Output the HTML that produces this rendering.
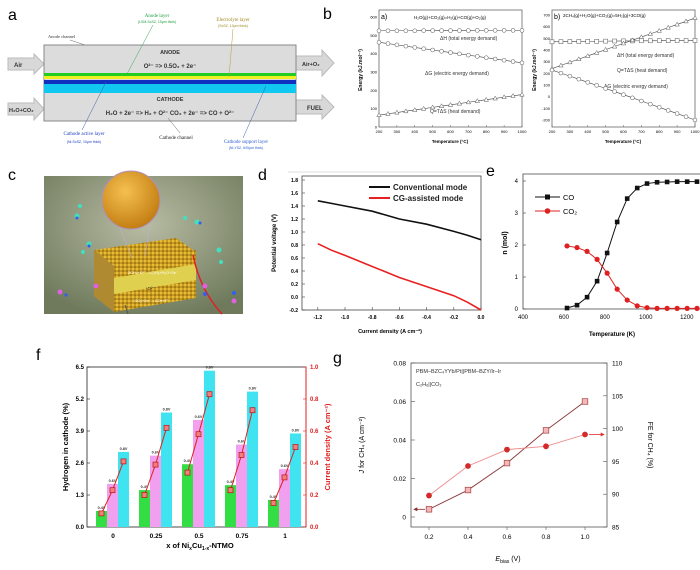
<!DOCTYPE html>
<html><head><meta charset="utf-8"><style>
html,body{margin:0;padding:0;background:#fff}
svg{display:block;font-family:"Liberation Sans",sans-serif}
</style></head><body>
<svg id="fig" width="700" height="570" viewBox="0 0 700 570" xmlns="http://www.w3.org/2000/svg">
<defs>
<radialGradient id="cbg" cx="0.5" cy="0.35" r="0.7"><stop offset="0" stop-color="#b8bca4"/><stop offset="1" stop-color="#6f7a5c"/></radialGradient>
<radialGradient id="orb" cx="0.4" cy="0.35" r="0.7"><stop offset="0" stop-color="#f5c050"/><stop offset="1" stop-color="#c07a10"/></radialGradient>
<linearGradient id="gold" x1="0" y1="0" x2="1" y2="1"><stop offset="0" stop-color="#e0b030"/><stop offset="1" stop-color="#9a6c10"/></linearGradient>
<pattern id="speck" width="4" height="4" patternUnits="userSpaceOnUse"><rect width="4" height="4" fill="#c89a20"/><circle cx="1" cy="1" r="1" fill="#f0c840"/><circle cx="3" cy="3" r="0.8" fill="#7a5a10"/></pattern>
<marker id="arrR" viewBox="0 0 6 6" refX="5" refY="3" markerWidth="5" markerHeight="5" orient="auto"><path d="M0,0 L6,3 L0,6z" fill="#e03030"/></marker>
<marker id="arrL" viewBox="0 0 6 6" refX="5" refY="3" markerWidth="5" markerHeight="5" orient="auto"><path d="M0,0 L6,3 L0,6z" fill="#8b2a2a"/></marker>
</defs>

<!-- Panel a -->
<g>
<text x="8" y="20" font-size="16">a</text>
<polygon points="8,58 34,58 34,54 44,64 34,74 34,70 8,70" fill="#d8d8d8" stroke="#bbb"/>
<text x="14" y="67" font-size="6" font-weight="bold" fill="#333">Air</text>
<polygon points="8,103 34,103 34,98 44,109 34,120 34,115 8,115" fill="#d8d8d8" stroke="#bbb"/>
<text x="9" y="112" font-size="5.5" font-weight="bold" fill="#333">H₂O+CO₂</text>
<polygon points="296,56 322,56 322,50 334,63 322,76 322,70 296,70" fill="#d8d8d8" stroke="#bbb"/>
<text x="302" y="66" font-size="5.5" font-weight="bold" fill="#333">Air+O₂</text>
<polygon points="296,100 322,100 322,95 334,107 322,119 322,114 296,114" fill="#d8d8d8" stroke="#bbb"/>
<text x="307" y="110" font-size="6" font-weight="bold" fill="#333">FUEL</text>
<rect x="44" y="45" width="252" height="76" fill="#dcdcdc" stroke="#888"/>
<rect x="44" y="73" width="252" height="3" fill="#22cc22"/>
<rect x="44" y="76" width="252" height="3" fill="#f0f020"/>
<rect x="44" y="80" width="252" height="4" fill="#1030c0"/>
<rect x="44" y="84" width="252" height="9" fill="#10c8f0"/>
<text x="170" y="54" font-size="5.5" font-weight="bold" text-anchor="middle" fill="#333">ANODE</text>
<text x="170" y="68" font-size="6" font-weight="bold" text-anchor="middle" fill="#333">O²⁻ =&gt; 0.5O₂ + 2e⁻</text>
<text x="170" y="101" font-size="5.5" font-weight="bold" text-anchor="middle" fill="#333">CATHODE</text>
<text x="170" y="115" font-size="6" font-weight="bold" text-anchor="middle" fill="#333">H₂O + 2e⁻ =&gt; H₂ + O²⁻   CO₂ + 2e⁻ =&gt; CO + O²⁻</text>
<text x="157" y="17" font-size="5" fill="#20a040" font-family="Liberation Serif" text-anchor="middle">Anode layer</text>
<text x="157" y="23" font-size="3.5" fill="#20a040" text-anchor="middle">(LSM-ScSZ, 15μm thick)</text>
<line x1="153" y1="25" x2="127" y2="74" stroke="#40a060" stroke-width="0.5"/>
<text x="233" y="21" font-size="5" fill="#a08a20" font-family="Liberation Serif" text-anchor="middle">Electrolyte layer</text>
<text x="233" y="27" font-size="3.5" fill="#a08a20" text-anchor="middle">(ScSZ, 10μm thick)</text>
<line x1="233" y1="29" x2="229" y2="77" stroke="#b0a040" stroke-width="0.5"/>
<text x="48" y="38" font-size="4.5" fill="#333" font-family="Liberation Serif">Anode channel</text>
<line x1="70" y1="40" x2="85" y2="45" stroke="#666" stroke-width="0.5"/>
<text x="84" y="135" font-size="5" fill="#2040c0" font-family="Liberation Serif" text-anchor="middle">Cathode active layer</text>
<text x="84" y="143" font-size="3.5" fill="#2040c0" text-anchor="middle">(Ni-ScSZ, 10μm thick)</text>
<line x1="82" y1="130" x2="106" y2="82" stroke="#4060a0" stroke-width="0.5"/>
<text x="176" y="139" font-size="5" fill="#222" font-family="Liberation Serif" text-anchor="middle">Cathode channel</text>
<line x1="180" y1="133" x2="168" y2="118" stroke="#666" stroke-width="0.5"/>
<text x="246" y="143" font-size="5" fill="#3060d0" font-family="Liberation Serif" text-anchor="middle">Cathode support layer</text>
<text x="246" y="149" font-size="3.5" fill="#3060d0" text-anchor="middle">(Ni-YSZ, 605μm thick)</text>
<line x1="243" y1="138" x2="266" y2="86" stroke="#4060a0" stroke-width="0.5"/>
</g>

<!-- Panel b -->
<g id="panelB">
<text x="323" y="19" font-size="16">b</text>
<rect x="379" y="10" width="143" height="117" fill="none" stroke="#666" stroke-width="0.8"/>
<rect x="552" y="10" width="143" height="117" fill="none" stroke="#666" stroke-width="0.8"/>
<text x="381" y="19" font-size="7">a)</text>
<text x="414" y="19" font-size="4.5">H₂O(g)+CO₂(g)=H₂(g)+CO(g)+O₂(g)</text>
<text x="554" y="19" font-size="7">b)</text>
<text x="563" y="17" font-size="4.5">2CH₄(g)+H₂O(g)+CO₂(g)=5H₂(g)+3CO(g)</text>
<text x="440" y="40" font-size="5" fill="#333">ΔH (total energy demand)</text>
<text x="425" y="75" font-size="5" fill="#333">ΔG (electric energy demand)</text>
<text x="430" y="113" font-size="5" fill="#333">Q=TΔS (heat demand)</text>
<text x="617" y="57" font-size="5" fill="#333">ΔH (total energy demand)</text>
<text x="617" y="72" font-size="5" fill="#333">Q=TΔS (heat demand)</text>
<text x="604" y="88" font-size="5" fill="#333">ΔG (electric energy demand)</text>
<text x="450" y="143" font-size="4.5" font-weight="bold" text-anchor="middle">Temperature (°C)</text>
<text x="623" y="143" font-size="4.5" font-weight="bold" text-anchor="middle">Temperature (°C)</text>
<text transform="translate(362,70) rotate(-90)" font-size="5" font-weight="bold" text-anchor="middle">Energy (kJ.mol⁻¹)</text>
<text transform="translate(536,70) rotate(-90)" font-size="5" font-weight="bold" text-anchor="middle">Energy (kJ.mol⁻¹)</text>
</g>

<!-- Panel c -->
<g>
<text x="8" y="180" font-size="16">c</text>
<rect x="44" y="176" width="199" height="138" fill="url(#cbg)"/>
<polygon points="94,250 176,238 196,252 114,266" fill="url(#speck)"/>
<polygon points="94,250 114,266 114,312 94,296" fill="#b08a30"/>
<polygon points="114,264 196,250 196,266 114,280" fill="url(#speck)"/>
<polygon points="114,278 196,264 196,282 114,296" fill="#e0d050"/>
<polygon points="114,294 196,280 196,298 114,312" fill="url(#speck)"/>
<text x="153" y="274" font-size="4" fill="#fff" text-anchor="middle">2CH₄+O²⁻→C₂H₆+H₂O+2e⁻</text>
<text x="150" y="290" font-size="4.5" fill="#222" text-anchor="middle">↑O²⁻</text>
<text x="152" y="302" font-size="4" fill="#fff" text-anchor="middle">CO₂+2e⁻→CO+O²⁻</text>
<line x1="120" y1="228" x2="132" y2="258" stroke="#c0b0d0" stroke-width="0.6"/>
<line x1="150" y1="225" x2="145" y2="256" stroke="#c0b0d0" stroke-width="0.6"/>
<circle cx="131" cy="200" r="29" fill="url(#orb)" stroke="#b090c0" stroke-width="1"/>
<path d="M193,255 Q200,290 222,314" stroke="#e02020" stroke-width="1.5" fill="none"/>
<path d="M125,305 L128,314" stroke="#555" stroke-width="1" fill="none"/>
<g fill="#40e0c0"><circle cx="77" cy="216" r="2.5"/><circle cx="80" cy="206" r="2"/><circle cx="89" cy="244" r="2.5"/><circle cx="83" cy="252" r="2"/><circle cx="197" cy="222" r="2.5"/><circle cx="185" cy="218" r="2"/><circle cx="219" cy="250" r="2.5"/><circle cx="221" cy="262" r="2"/><circle cx="200" cy="223" r="1.5" fill="#3060f0"/><circle cx="77" cy="218" r="1.5" fill="#3060f0"/><circle cx="89" cy="246" r="1.5" fill="#3060f0"/></g>
<g fill="#e060e0"><circle cx="96" cy="286" r="2.5"/><circle cx="60" cy="292" r="2.5"/><circle cx="66" cy="295" r="1.6" fill="#3060f0"/><circle cx="205" cy="286" r="2.5"/><circle cx="205" cy="294" r="2" fill="#3060f0"/><circle cx="234" cy="301" r="2.5"/><circle cx="234" cy="293" r="2" fill="#3060f0"/></g>
</g>

<!-- Panel d -->
<g id="panelD">
<text x="258" y="180" font-size="16">d</text>
<line x1="288" y1="172" x2="484" y2="172" stroke="#bbb" stroke-width="0.6"/>
<rect x="302" y="176" width="179" height="134" fill="none" stroke="#444" stroke-width="0.8"/>
<line x1="369" y1="187" x2="390" y2="187" stroke="#111" stroke-width="2"/>
<text x="393" y="190" font-size="8" font-weight="bold" fill="#222">Conventional mode</text>
<line x1="369" y1="198" x2="390" y2="198" stroke="#e82020" stroke-width="2"/>
<text x="393" y="201" font-size="8" font-weight="bold" fill="#222">CG-assisted mode</text>
<text x="390" y="333" font-size="5.5" font-weight="bold" text-anchor="middle">Current density (A cm⁻²)</text>
<text transform="translate(276,243) rotate(-90)" font-size="6" font-weight="bold" text-anchor="middle">Potential voltage (V)</text>
</g>

<!-- Panel e -->
<g id="panelE">
<text x="486" y="176" font-size="16">e</text>
<polyline points="700,174 523,174 523,309 700,309" fill="none" stroke="#444" stroke-width="0.8"/>
<line x1="535" y1="197" x2="560" y2="197" stroke="#111" stroke-width="1"/>
<rect x="545" y="194.5" width="5" height="5" fill="#111"/>
<text x="563" y="200" font-size="7.5">CO</text>
<line x1="535" y1="211" x2="560" y2="211" stroke="#e02020" stroke-width="1"/>
<circle cx="547.5" cy="211" r="2.8" fill="#e02020"/>
<text x="563" y="214" font-size="7.5">CO₂</text>
<text x="612" y="336" font-size="6" font-weight="bold" text-anchor="middle">Temperature (K)</text>
<text transform="translate(507,243) rotate(-90)" font-size="7" font-weight="bold" text-anchor="middle">n (mol)</text>
</g>

<!-- Panel f -->
<g id="panelF">
<text x="36" y="360" font-size="16">f</text>
<rect x="87" y="367" width="219" height="160" fill="none" stroke="#222" stroke-width="0.8"/>
<line x1="306" y1="367" x2="306" y2="527" stroke="#e02020" stroke-width="1"/>
<text transform="translate(68,447) rotate(-90)" font-size="7.5" font-weight="bold" text-anchor="middle">Hydrogen in cathode (%)</text>
<text transform="translate(330,447) rotate(-90)" font-size="7.5" font-weight="bold" fill="#e02020" text-anchor="middle">Current density (A cm⁻²)</text>
<text x="200" y="548" font-size="7.5" font-weight="bold" text-anchor="middle">x of Ni<tspan font-size="5" dy="2">x</tspan><tspan dy="-2">Cu</tspan><tspan font-size="5" dy="2">1-x</tspan><tspan dy="-2">-NTMO</tspan></text>
</g>

<!-- Panel g -->
<g id="panelG">
<text x="333" y="363" font-size="16">g</text>
<rect x="411" y="363" width="196" height="164" fill="none" stroke="#555" stroke-width="0.8"/>
<text x="416" y="373" font-size="5.5" fill="#333">PBM–BZC₄YYb/Pt||PBM–BZY/Ir–Ir</text>
<text x="416" y="386" font-size="5.5" fill="#333">C₂H₆||CO₂</text>
<text x="508" y="561" font-size="7" text-anchor="middle"><tspan font-style="italic">E</tspan><tspan font-size="5" dy="2">bias</tspan><tspan dy="-2"> (V)</tspan></text>
<text transform="translate(364,445) rotate(-90)" font-size="7" text-anchor="middle"><tspan font-style="italic">J</tspan> for CH₄ (A cm⁻²)</text>
<text transform="translate(648,445) rotate(90)" font-size="7" text-anchor="middle">FE for CH₄ (%)</text>
</g>
</svg>
<script>
const NS='http://www.w3.org/2000/svg';
const svg=document.getElementById('fig');
function mk(parent,tag,attrs,txt){const e=document.createElementNS(NS,tag);for(const k in attrs)e.setAttribute(k,attrs[k]);if(txt!==undefined)e.textContent=txt;parent.appendChild(e);return e;}

// ===== Panel b data =====
const bTemps=[200,250,300,350,400,450,500,550,600,650,700,750,800,850,900,950,1000];
const bLeftDH=[525,525,525,525,525,526,526,526,526,526,526,527,527,527,527,527,527];
const bLeftDG=[462,455,448,441,434,427,420,413,406,399,392,385,378,371,364,357,350];
const bLeftQ=[65,72,79,86,93,100,107,114,121,128,135,142,149,156,163,170,177];
const bRightDH=[470,471,472,473,474,475,476,477,478,478,479,479,480,480,481,481,482];
const bRightQ=[240,268,295,322,349,376,403,430,457,484,511,538,565,592,619,646,675];
const bRightDG=[228,202,176,150,123,97,70,44,17,-10,-37,-64,-91,-118,-145,-172,-200];
const bXTicks=[200,300,400,500,600,700,800,900,1000];
const bLeftYTicks=[0,100,200,300,400,500,600];
const bRightYTicks=[-200,-100,0,100,200,300,400,500,600,700];

// ===== Panel d data =====
const dCurrent=[-1.2,-1.1,-1.0,-0.8,-0.6,-0.4,-0.2,-0.1,0.0];
const dConventional=[1.48,1.44,1.40,1.32,1.20,1.12,1.01,0.95,0.88];
const dCG=[0.82,0.72,0.64,0.47,0.30,0.16,0.02,-0.08,-0.20];
const dXTicks=[-1.2,-1.0,-0.8,-0.6,-0.4,-0.2,0.0];
const dYTicks=[-0.2,0.0,0.2,0.4,0.6,0.8,1.0,1.2,1.4,1.6,1.8];

// ===== Panel e data =====
const eTemps=[615,664,713,762,811,860,909,958,1006,1055,1104,1153,1202,1250];
const eCO=[0.03,0.12,0.37,0.87,1.75,2.72,3.45,3.78,3.92,3.96,3.97,3.98,3.98,3.98];
const eCO2=[1.97,1.92,1.80,1.55,1.12,0.62,0.28,0.10,0.04,0.02,0.02,0.02,0.02,0.02];
const eXTicks=[400,600,800,1000,1200];
const eYTicks=[0,1,2,3,4];

// ===== Panel f data =====
const fCategories=['0','0.25','0.5','0.75','1'];
const fH2at04=[0.65,1.5,2.55,1.7,1.1];
const fH2at06=[1.75,2.9,4.35,3.35,2.35];
const fH2at08=[3.05,4.65,6.35,5.5,3.8];
const fJat04=[0.085,0.2,0.34,0.23,0.15];
const fJat06=[0.23,0.39,0.58,0.45,0.31];
const fJat08=[0.41,0.62,0.83,0.73,0.5];
const fBarLabels=['0.4V','0.6V','0.8V'];
const fYTicks=[0.0,1.3,2.6,3.9,5.2,6.5];
const fY2Ticks=[0.0,0.2,0.4,0.6,0.8,1.0];

// ===== Panel g data =====
const gBias=[0.2,0.4,0.6,0.8,1.0];
const gJ=[0.004,0.014,0.028,0.045,0.060];
const gFE=[89.8,94.3,96.8,97.3,99.1];
const gXTicks=[0.2,0.4,0.6,0.8,1.0];
const gYTicks=[0,0.02,0.04,0.06,0.08];
const gY2Ticks=[85,90,95,100,105,110];

// ---------- Panel b ----------
(function(){
 const g=document.getElementById('panelB');
 const xL=t=>379+(t-200)*143/800, xR=t=>552+(t-200)*143/800;
 const yL=v=>127-v*110/600, yR=v=>15+(700-v)*105/900;
 bXTicks.forEach(t=>{
  [xL,xR].forEach((xf,i)=>{
   const tk=mk(g,'line',{x1:xf(t),x2:xf(t),y1:127,y2:125,stroke:'#666','stroke-width':0.5});
   
   
   const tl=mk(g,'text',{x:xf(t),y:133,'font-size':4,'text-anchor':'middle'},t);
   
   
  });
 });
 bLeftYTicks.forEach(v=>{
  const tl=mk(g,'text',{x:377,y:yL(v)+1.5,'font-size':4,'text-anchor':'end'},v);
  
  
 });
 bRightYTicks.forEach(v=>{
  const tl=mk(g,'text',{x:550,y:yR(v)+1.5,'font-size':4,'text-anchor':'end'},v);
  
  
 });
 const series=[[bLeftDH,xL,yL,'circle','b-left-dh'],[bLeftDG,xL,yL,'circle','b-left-dg'],[bLeftQ,xL,yL,'tri','b-left-q'],
  [bRightDH,xR,yR,'square','b-right-dh'],[bRightQ,xR,yR,'tri','b-right-q'],[bRightDG,xR,yR,'circle','b-right-dg']];
 series.forEach(([vals,xf,yf,m,name])=>{
  const pl=mk(g,'polyline',{points:vals.map((v,i)=>xf(bTemps[i])+','+yf(v)).join(' '),fill:'none',stroke:'#444','stroke-width':0.6});
  
  
  vals.forEach((v,i)=>{
   const x=xf(bTemps[i]),y=yf(v);let e;
   if(m==='circle')e=mk(g,'circle',{cx:x,cy:y,r:2,fill:'#fff',stroke:'#555','stroke-width':0.5});
   else if(m==='square')e=mk(g,'rect',{x:x-2,y:y-2,width:4,height:4,fill:'#fff',stroke:'#555','stroke-width':0.5});
   else e=mk(g,'polygon',{points:`${x},${y-2.3} ${x-2.2},${y+1.6} ${x+2.2},${y+1.6}`,fill:'#fff',stroke:'#555','stroke-width':0.5});
   
   
  });
 });
})();

// ---------- Panel d ----------
(function(){
 const g=document.getElementById('panelD');
 const x=v=>481+v*136, y=v=>310-(v+0.2)*65;
 dXTicks.forEach(t=>{
  const tk=mk(g,'line',{x1:x(t),x2:x(t),y1:310,y2:307,stroke:'#444','stroke-width':0.6});
  
  
  const tl=mk(g,'text',{x:x(t),y:319,'font-size':5,'font-weight':'bold','text-anchor':'middle'},t.toFixed(1));
  
  
 });
 dYTicks.forEach(t=>{
  const tk=mk(g,'line',{x1:302,x2:305,y1:y(t),y2:y(t),stroke:'#444','stroke-width':0.6});
  
  
  const tl=mk(g,'text',{x:298,y:y(t)+2,'font-size':5,'font-weight':'bold','text-anchor':'end'},t.toFixed(1));
  
  
 });
 const l1=mk(g,'polyline',{points:dCurrent.map((c,i)=>x(c)+','+y(dConventional[i])).join(' '),fill:'none',stroke:'#111','stroke-width':1.6});
 
 
 const l2=mk(g,'polyline',{points:dCurrent.map((c,i)=>x(c)+','+y(dCG[i])).join(' '),fill:'none',stroke:'#e82020','stroke-width':1.6});
 
 
})();

// ---------- Panel e ----------
(function(){
 const g=document.getElementById('panelE');
 const x=t=>523+(t-400)*0.2047, y=v=>309-v*32;
 eXTicks.forEach(t=>{
  const tl=mk(g,'text',{x:x(t),y:319,'font-size':6,'text-anchor':'middle'},t);
  
  
 });
 eYTicks.forEach(t=>{
  const tk=mk(g,'line',{x1:523,x2:526,y1:y(t),y2:y(t),stroke:'#444','stroke-width':0.6});
  
  
  const tl=mk(g,'text',{x:518,y:y(t)+2,'font-size':6,'text-anchor':'end'},t);
  
  
 });
 const l1=mk(g,'polyline',{points:eTemps.map((t,i)=>x(t)+','+y(eCO[i])).join(' '),fill:'none',stroke:'#111','stroke-width':1});
 
 
 const l2=mk(g,'polyline',{points:eTemps.map((t,i)=>x(t)+','+y(eCO2[i])).join(' '),fill:'none',stroke:'#e02020','stroke-width':1});
 
 
 eTemps.forEach((t,i)=>{
  const s=mk(g,'rect',{x:x(t)-2.3,y:y(eCO[i])-2.3,width:4.6,height:4.6,fill:'#111'});
  
  
  const c=mk(g,'circle',{cx:x(t),cy:y(eCO2[i]),r:2.6,fill:'#e02020'});
  
  
 });
})();

// ---------- Panel f ----------
(function(){
 const g=document.getElementById('panelF');
 const xc=i=>113+i*43, y=v=>527-v*160/6.5, y2=v=>527-v*160;
 fYTicks.forEach(t=>{
  const tk=mk(g,'line',{x1:87,x2:90,y1:y(t),y2:y(t),stroke:'#222','stroke-width':0.6});
  
  
  const tl=mk(g,'text',{x:84,y:y(t)+2,'font-size':6,'font-weight':'bold','text-anchor':'end'},t.toFixed(1));
  
  
 });
 fY2Ticks.forEach(t=>{
  const tk=mk(g,'line',{x1:303,x2:306,y1:y2(t),y2:y2(t),stroke:'#e02020','stroke-width':0.6});
  
  
  const tl=mk(g,'text',{x:310,y:y2(t)+2,'font-size':6,'font-weight':'bold',fill:'#e02020'},t.toFixed(1));
  
  
 });
 const cols=['#33dd44','#f0a0ee','#40e4f0'];
 const sets=[fH2at04,fH2at06,fH2at08];
 const jsets=[fJat04,fJat06,fJat08];
 fCategories.forEach((c,i)=>{
  const tl=mk(g,'text',{x:xc(i),y:538,'font-size':6.5,'font-weight':'bold','text-anchor':'middle'},c);
  
  
  const pts=[];
  sets.forEach((s,k)=>{
   const bx=xc(i)-17+k*11;
   const b=mk(g,'rect',{x:bx,y:y(s[i]),width:11,height:527-y(s[i]),fill:cols[k]});
   
   
   const lb=mk(g,'text',{x:bx+5.5,y:y(s[i])-2,'font-size':3.8,'font-weight':'bold','text-anchor':'middle',fill:'#333'},fBarLabels[k]);
   
   
   pts.push([bx+5.5,y2(jsets[k][i])]);
  });
  const pl=mk(g,'polyline',{points:pts.map(p=>p.join(',')).join(' '),fill:'none',stroke:'#e02020','stroke-width':1});
  
  
  pts.forEach(p=>{
   const m=mk(g,'rect',{x:p[0]-2.5,y:p[1]-2.5,width:5,height:5,fill:'#f08080',stroke:'#c01010','stroke-width':0.7});
   
   
  });
 });
})();

// ---------- Panel g ----------
(function(){
 const g=document.getElementById('panelG');
 const x=v=>429+(v-0.2)*195, y=v=>517-v*154/0.08, y2=v=>527-(v-85)*164/25;
 gXTicks.forEach(t=>{
  const tk=mk(g,'line',{x1:x(t),x2:x(t),y1:527,y2:530,stroke:'#555','stroke-width':0.6});
  
  
  const tl=mk(g,'text',{x:x(t),y:539,'font-size':6.5,'text-anchor':'middle'},t.toFixed(1));
  
  
 });
 gYTicks.forEach(t=>{
  const tk=mk(g,'line',{x1:411,x2:415,y1:y(t),y2:y(t),stroke:'#555','stroke-width':0.6});
  
  
  const tl=mk(g,'text',{x:406,y:y(t)+2.5,'font-size':6.5,'text-anchor':'end'},t===0?'0':t.toFixed(2));
  
  
 });
 gY2Ticks.forEach(t=>{
  const tk=mk(g,'line',{x1:603,x2:607,y1:y2(t),y2:y2(t),stroke:'#555','stroke-width':0.6});
  
  
  const tl=mk(g,'text',{x:612,y:y2(t)+2.5,'font-size':6.5},t);
  
  
 });
 const lj=mk(g,'polyline',{points:gBias.map((b,i)=>x(b)+','+y(gJ[i])).join(' '),fill:'none',stroke:'#8b3a3a','stroke-width':0.9});
 
 
 const lf=mk(g,'polyline',{points:gBias.map((b,i)=>x(b)+','+y2(gFE[i])).join(' '),fill:'none',stroke:'#f08a8a','stroke-width':0.9});
 
 
 const aL=mk(g,'line',{x1:x(gBias[0])-4,y1:y(gJ[0]),x2:414,y2:y(gJ[0]),stroke:'#8b2a2a','stroke-width':0.8,'marker-end':'url(#arrL)'});
 
 
 const n=gBias.length-1;
 const aR=mk(g,'line',{x1:x(gBias[n])+4,y1:y2(gFE[n]),x2:604,y2:y2(gFE[n]),stroke:'#e03030','stroke-width':0.8,'marker-end':'url(#arrR)'});
 
 
 gBias.forEach((b,i)=>{
  const s=mk(g,'rect',{x:x(b)-2.8,y:y(gJ[i])-2.8,width:5.6,height:5.6,fill:'#f4b8b8',stroke:'#a04040','stroke-width':0.7});
  
  
  const c=mk(g,'circle',{cx:x(b),cy:y2(gFE[i]),r:2.9,fill:'#d42a2a'});
  
  
 });
})();
</script>
</body></html>
